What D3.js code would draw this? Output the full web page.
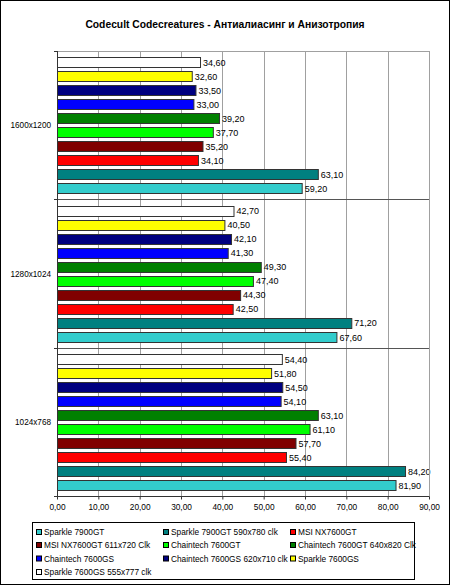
<!DOCTYPE html>
<html><head><meta charset="utf-8">
<script src="https://cdn.jsdelivr.net/npm/d3@7/dist/d3.min.js"></script>
<style>
html,body{margin:0;padding:0;background:#fff;}
svg{display:block;font-family:"Liberation Sans",Arial,sans-serif;}
</style></head>
<body>
<svg id="c" width="450" height="585"></svg>
<script>
const title = "Codecult Codecreatures - Антиалиасинг и Анизотропия";
const categories = ["1600x1200", "1280x1024", "1024x768"];
const seriesNames = [
  "Sparkle 7900GT", "Sparkle 7900GT 590x780 clk", "MSI NX7600GT",
  "MSI NX7600GT 611x720 Clk", "Chaintech 7600GT", "Chaintech 7600GT 640x820 Clk",
  "Chaintech 7600GS", "Chaintech 7600GS 620x710 clk", "Sparkle 7600GS",
  "Sparkle 7600GS 555x777 clk"
];
const seriesColors = ["#33CCCC","#008080","#FF0000","#800000","#00FF00","#008000","#0000FF","#000080","#FFFF00","#FFFFFF"];
// values per series, in category order [1600x1200, 1280x1024, 1024x768]
const sparkle7900 = [59.2, 67.6, 81.9];
const sparkle7900oc = [63.1, 71.2, 84.2];
const msi7600 = [34.1, 42.5, 55.4];
const msi7600oc = [35.2, 44.3, 57.7];
const chaintech7600gt = [37.7, 47.4, 61.1];
const chaintech7600gtoc = [39.2, 49.3, 63.1];
const chaintech7600gs = [33.0, 41.3, 54.1];
const chaintech7600gsoc = [33.5, 42.1, 54.5];
const sparkle7600gs = [32.6, 40.5, 51.8];
const sparkle7600gsoc = [34.6, 42.7, 54.4];
const seriesValues = [sparkle7900, sparkle7900oc, msi7600, msi7600oc, chaintech7600gt,
  chaintech7600gtoc, chaintech7600gs, chaintech7600gsoc, sparkle7600gs, sparkle7600gsoc];
const xTicks = [0,10,20,30,40,50,60,70,80,90];

const svg = d3.select("#c");
const W = 450, H = 585;
const L = 57, R = 429, T = 51, B = 496;

svg.append("rect").attr("x",0.5).attr("y",0.5).attr("width",W-1).attr("height",H-1)
  .attr("fill","#fff").attr("stroke","#000");

svg.append("text").attr("x",225).attr("y",28).attr("text-anchor","middle")
  .attr("font-size","10.3px").attr("font-weight","bold").attr("fill","#000").text(title);

const x = d3.scaleLinear().domain([0,90]).range([L,R]);
const y = d3.scaleBand().domain(categories).range([T,B]).padding(0);
const order = seriesNames.map((d,i)=>i).reverse();
const yi = d3.scaleBand().domain(order).range([0,y.bandwidth()])
  .paddingInner(0.21).paddingOuter(0.4).align(0.56);

// vertical gridlines
svg.append("g").selectAll("line").data(xTicks.slice(1)).join("line")
  .attr("x1",d=>Math.round(x(d))+0.5).attr("x2",d=>Math.round(x(d))+0.5)
  .attr("y1",T).attr("y2",B).attr("stroke","#a0a0a0").attr("stroke-width",1);
// plot border top
svg.append("line").attr("x1",L).attr("x2",R+0.5).attr("y1",T+0.5).attr("y2",T+0.5).attr("stroke","#a0a0a0");
// category separators
svg.append("g").selectAll("line").data(categories.slice(1)).join("line")
  .attr("x1",L-3).attr("x2",R).attr("y1",d=>Math.round(y(d))+0.5).attr("y2",d=>Math.round(y(d))+0.5)
  .attr("stroke","#555");

// bars
const rows = [];
categories.forEach((c,ci)=>seriesNames.forEach((s,si)=>rows.push({c,si,v:seriesValues[si][ci]})));
const bars = svg.append("g");
bars.selectAll("rect").data(rows).join("rect")
  .attr("x",L+0.5)
  .attr("y",d=>Math.round(y(d.c)+yi(d.si))+0.5)
  .attr("width",d=>x(d.v)-L)
  .attr("height",Math.round(yi.bandwidth())-1)
  .attr("fill",d=>seriesColors[d.si]).attr("stroke","#333").attr("stroke-width",1);
bars.selectAll("text").data(rows).join("text")
  .attr("x",d=>x(d.v)+3)
  .attr("y",d=>y(d.c)+yi(d.si)+yi.bandwidth()/2+3.3)
  .attr("font-size","9px").attr("fill","#000")
  .text(d=>d.v.toFixed(2).replace(".",","));

// axes
const xAxis = d3.axisBottom(x).tickValues(xTicks).tickSize(3).tickFormat(d=>d.toFixed(2).replace(".",","));
const gx = svg.append("g").attr("transform",`translate(0,${B+0.5})`).call(xAxis);
gx.select(".domain").attr("stroke","#333").attr("d",`M${L},0H${R+0.5}`);
gx.selectAll(".tick line").attr("stroke","#333");
gx.selectAll(".tick text").attr("font-size","8.3px").attr("font-family","Liberation Sans, Arial, sans-serif").attr("fill","#000").attr("dy","0.9em");

svg.append("line").attr("x1",L+0.5).attr("x2",L+0.5).attr("y1",T).attr("y2",B+3).attr("stroke","#333");
svg.append("g").selectAll("line").data([T, ...categories.slice(1).map(c=>y(c)), B]).join("line")
  .attr("x1",L-3).attr("x2",L).attr("y1",d=>Math.round(d)+0.5).attr("y2",d=>Math.round(d)+0.5).attr("stroke","#333");
// right border of plot
svg.append("line").attr("x1",R+0.5).attr("x2",R+0.5).attr("y1",T).attr("y2",B).attr("stroke","#a0a0a0");

svg.append("g").selectAll("text").data(categories).join("text")
  .attr("x",51).attr("y",d=>y(d)+y.bandwidth()/2+3).attr("text-anchor","end")
  .attr("font-size","8.2px").attr("fill","#000").text(d=>d);

// legend
svg.append("rect").attr("x",32.5).attr("y",522.5).attr("width",382).attr("height",57)
  .attr("fill","#fff").attr("stroke","#000");
const colX = [36, 163, 290], rowY = [532, 545, 558.5, 572];
const lg = svg.append("g").selectAll("g").data(seriesNames).join("g")
  .attr("transform",(d,i)=>`translate(${colX[i%3]},${rowY[Math.floor(i/3)]})`);
lg.append("rect").attr("x",0.5).attr("y",-2.5).attr("width",5).attr("height",5)
  .attr("fill",(d,i)=>seriesColors[i]).attr("stroke","#000");
lg.append("text").attr("x",8).attr("y",3).attr("font-size","8.3px").attr("fill","#000").text(d=>d);
</script>
</body></html>
